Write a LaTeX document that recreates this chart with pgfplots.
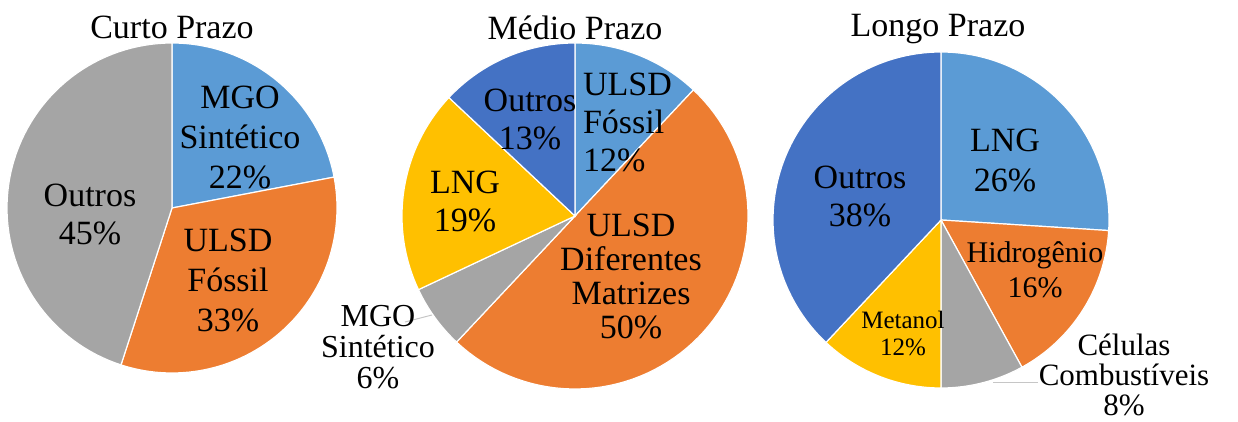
\documentclass[border=0pt]{standalone}
\usepackage{pgfplots}
\pgfplotsset{compat=1.18}
\usepackage{fontspec}
\setmainfont{Liberation Serif}

\definecolor{cblue}{HTML}{5B9BD5}
\definecolor{corange}{HTML}{ED7D31}
\definecolor{cgray}{HTML}{A5A5A5}
\definecolor{cyellow}{HTML}{FFC000}
\definecolor{cdblue}{HTML}{4472C4}
\definecolor{txt}{HTML}{111111}

% slice: {cx}{cy}{r}{from %}{to %}{colour}, clockwise from the top
\newcommand{\slice}[6]{%
  \addplot[fill=#6, draw=white, line width=0.6pt, domain={90-3.6*(#5)}:{90-3.6*(#4)}, samples=70]
    ({#1+#3*cos(x)}, {#2+#3*sin(x)}) -- (axis cs:#1,#2) -- cycle;}

\newcommand{\lbl}[1]{\fontsize{#1}{#1}\selectfont}

\begin{document}
\begin{tikzpicture}
\begin{axis}[
  width=619pt, height=211pt, scale only axis,
  xmin=0, xmax=1238, ymin=-422, ymax=0,
  hide axis, clip=false,
  every node/.append style={text=txt, inner sep=0pt},
]
\coordinate (bl) at (axis cs:0,-422);
\coordinate (tr) at (axis cs:1238,0);

% Curto Prazo: MGO Sintetico 22, ULSD Fossil 33, Outros 45
\slice{172}{-208}{165}{0}{22}{cblue}
\slice{172}{-208}{165}{22}{55}{corange}
\slice{172}{-208}{165}{55}{100}{cgray}

% Medio Prazo: ULSD Fossil 12, ULSD Dif. Matrizes 50, MGO Sintetico 6, LNG 19, Outros 13
\slice{575}{-216}{173}{0}{12}{cblue}
\slice{575}{-216}{173}{12}{62}{corange}
\slice{575}{-216}{173}{62}{68}{cgray}
\slice{575}{-216}{173}{68}{87}{cyellow}
\slice{575}{-216}{173}{87}{100}{cdblue}

% Longo Prazo: LNG 26, Hidrogenio 16, Celulas Comb. 8, Metanol 12, Outros 38
\slice{941}{-220}{168}{0}{26}{cblue}
\slice{941}{-220}{168}{26}{42}{corange}
\slice{941}{-220}{168}{42}{50}{cgray}
\slice{941}{-220}{168}{50}{62}{cyellow}
\slice{941}{-220}{168}{62}{100}{cdblue}

% leader lines
\draw[gray!45, line width=0.5pt] (axis cs:405,-322) -- (axis cs:432,-315);
\draw[gray!45, line width=0.5pt] (axis cs:993,-383) -- (axis cs:1038,-383);

% titles
\node[font=\lbl{17}] at (axis cs:172,-27) {Curto Prazo};
\node[font=\lbl{17}] at (axis cs:575,-28) {Médio Prazo};
\node[font=\lbl{17}] at (axis cs:938,-29) {Longo Prazo};

% labels, Curto Prazo
\node[font=\fontsize{17}{20}\selectfont, align=center] at (axis cs:240,-137) {MGO\\Sintético\\22\%};
\node[font=\fontsize{17}{19}\selectfont, align=center] at (axis cs:90,-214) {Outros\\45\%};
\node[font=\fontsize{17}{20}\selectfont, align=center] at (axis cs:228,-280) {ULSD\\Fóssil\\33\%};

% labels, Medio Prazo
\node[font=\fontsize{17}{19}\selectfont, align=left, anchor=west] at (axis cs:576,-122) {ULSD\\Fóssil\\12\%};
\node[font=\fontsize{17}{19}\selectfont, align=center] at (axis cs:530,-119) {Outros\\13\%};
\node[font=\fontsize{17}{19}\selectfont, align=center] at (axis cs:465,-201) {LNG\\19\%};
\node[font=\fontsize{17}{17}\selectfont, align=center] at (axis cs:631,-276) {ULSD\\Diferentes\\Matrizes\\50\%};
\node[font=\fontsize{16}{15.5}\selectfont, align=center] at (axis cs:378,-347) {MGO\\Sintético\\6\%};

% labels, Longo Prazo
\node[font=\fontsize{17}{20}\selectfont, align=center] at (axis cs:1005,-160) {LNG\\26\%};
\node[font=\fontsize{17}{19}\selectfont, align=center] at (axis cs:860,-196) {Outros\\38\%};
\node[font=\fontsize{15}{17.5}\selectfont, align=center] at (axis cs:1035,-270) {Hidrogênio\\16\%};
\node[font=\fontsize{12.5}{13.5}\selectfont, align=center] at (axis cs:903,-333) {Metanol\\12\%};
\node[font=\fontsize{15.5}{15}\selectfont, align=center] at (axis cs:1124,-375) {Células\\Combustíveis\\8\%};
\end{axis}
\pgfresetboundingbox
\path (bl) rectangle (tr);
\end{tikzpicture}
\end{document}
